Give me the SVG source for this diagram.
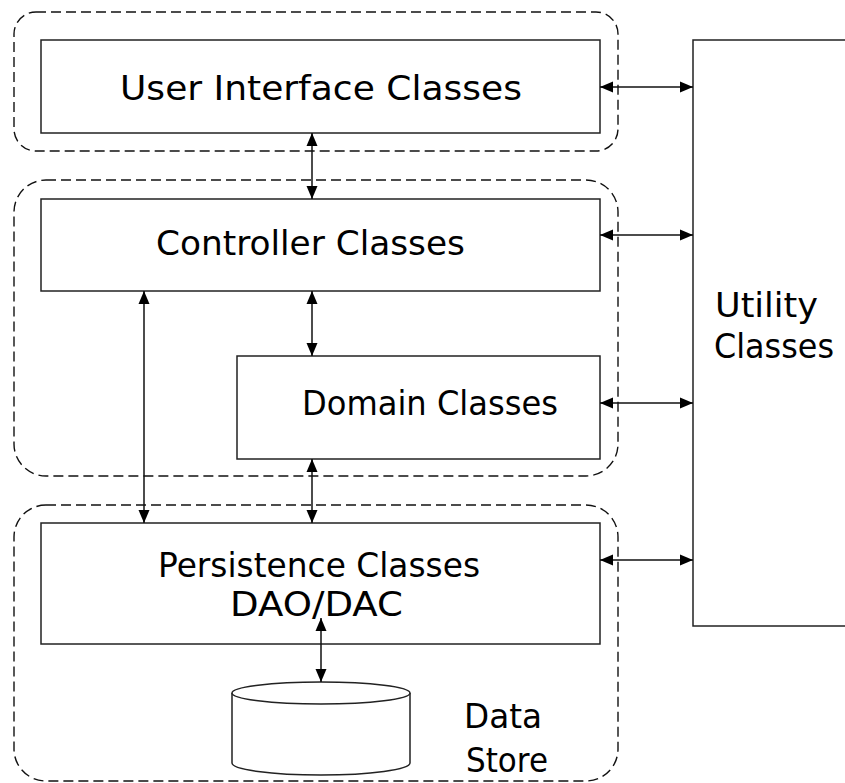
<svg xmlns="http://www.w3.org/2000/svg" width="845" height="783" viewBox="0 0 845 783">
  <style>
    .layer { fill: none; stroke: #111; stroke-width: 1.4; stroke-dasharray: 10 5; }
    .box { fill: #fff; stroke: #222; stroke-width: 1.5; }
    .label { font-family: "Comic Sans MS", "DejaVu Sans", sans-serif; font-size: 34px; fill: #000; }
    .link { stroke: #111; stroke-width: 1.5; fill: none; marker-start: url(#head); marker-end: url(#head); }
  </style>
  <defs>
    <marker id="head" viewBox="0 0 13 12" refX="13" refY="6" markerWidth="13" markerHeight="12" markerUnits="userSpaceOnUse" orient="auto-start-reverse">
      <path d="M0,0.5 L13,6 L0,11.5 Z" fill="#000"/>
    </marker>
  </defs>
  <rect width="845" height="783" fill="#fff"/>

  <!-- dashed layer outlines -->
  <g id="layers">
    <rect id="layer-ui" class="layer" x="14" y="12" width="604" height="139" rx="22" ry="22"/>
    <rect id="layer-logic" class="layer" x="14" y="180" width="604" height="296" rx="32" ry="32"/>
    <rect id="layer-data" class="layer" x="14" y="505" width="604" height="276" rx="32" ry="32"/>
  </g>

  <g id="ui">
    <rect class="box" x="41" y="40" width="559" height="93"/>
    <text class="label" x="120" y="100" textLength="402" lengthAdjust="spacingAndGlyphs">User Interface Classes</text>
  </g>

  <g id="controller">
    <rect class="box" x="41" y="199" width="559" height="92"/>
    <text class="label" x="156" y="255" textLength="309" lengthAdjust="spacingAndGlyphs">Controller Classes</text>
  </g>

  <g id="domain">
    <rect class="box" x="237" y="356" width="363" height="103"/>
    <text class="label" x="302" y="415" textLength="256" lengthAdjust="spacingAndGlyphs">Domain Classes</text>
  </g>

  <g id="persistence">
    <rect class="box" x="41" y="523" width="559" height="121"/>
    <text class="label" x="158" y="577" textLength="322" lengthAdjust="spacingAndGlyphs">Persistence Classes</text>
    <text class="label" x="230" y="616" textLength="173" lengthAdjust="spacingAndGlyphs">DAO/DAC</text>
  </g>

  <g id="utility">
    <rect class="box" x="693" y="40" width="170" height="586"/>
    <text class="label" x="715" y="317" textLength="103" lengthAdjust="spacingAndGlyphs">Utility</text>
    <text class="label" x="714" y="358" textLength="120" lengthAdjust="spacingAndGlyphs">Classes</text>
  </g>

  <g id="datastore">
    <path class="box" d="M232,693 L232,763 A89,12 0 0 0 410,763 L410,693"/>
    <ellipse class="box" cx="321" cy="693" rx="89" ry="11"/>
    <text class="label" x="464" y="728" textLength="78" lengthAdjust="spacingAndGlyphs">Data</text>
    <text class="label" x="466" y="772" textLength="82" lengthAdjust="spacingAndGlyphs">Store</text>
  </g>

  <g id="connectors">
    <line class="link" x1="312" y1="133" x2="312" y2="199"/>
    <line class="link" x1="144" y1="291" x2="144" y2="523"/>
    <line class="link" x1="312" y1="291" x2="312" y2="356"/>
    <line class="link" x1="312" y1="459" x2="312" y2="523"/>
    <line class="link" x1="321" y1="618" x2="321" y2="682"/>
    <line class="link" x1="600" y1="87" x2="693" y2="87"/>
    <line class="link" x1="600" y1="235" x2="693" y2="235"/>
    <line class="link" x1="600" y1="403" x2="693" y2="403"/>
    <line class="link" x1="600" y1="560" x2="693" y2="560"/>
  </g>
</svg>
